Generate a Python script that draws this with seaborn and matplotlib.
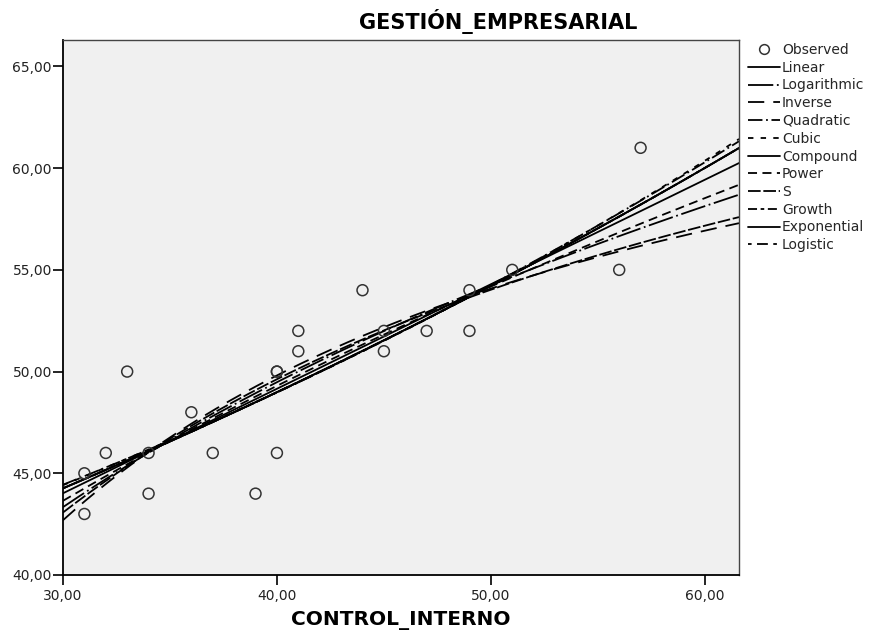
import numpy as np
import pandas as pd
import seaborn as sns
import matplotlib
matplotlib.use("Agg")
import matplotlib.pyplot as plt
from matplotlib.ticker import FuncFormatter, FixedLocator
from matplotlib.lines import Line2D

# Observed values
control_interno = [31, 31, 32, 33, 34, 34, 36, 37, 39, 40, 40, 40,
                   41, 41, 44, 45, 45, 47, 49, 49, 51, 56, 57]
gestion_empresarial = [45, 43, 46, 50, 46, 44, 48, 46, 44, 50, 50, 46,
                       52, 51, 54, 52, 51, 52, 54, 52, 55, 55, 61]

models = ["Linear", "Logarithmic", "Inverse", "Quadratic", "Cubic",
          "Compound", "Power", "S", "Growth", "Exponential", "Logistic"]
x_ticks = [30, 40, 50, 60]
y_ticks = [40, 45, 50, 55, 60, 65]

styles = {
    "Linear": "-",
    "Logarithmic": (0, (14, 2, 1, 2)),
    "Inverse": (0, (9, 5)),
    "Quadratic": (0, (8, 2, 1, 2)),
    "Cubic": (0, (3, 4)),
    "Compound": "-",
    "Power": (0, (5, 3)),
    "S": (0, (7, 1.5)),
    "Growth": (0, (5, 2, 2, 2)),
    "Exponential": "-",
    "Logistic": (0, (2, 3, 6, 3)),
}

x = np.asarray(control_interno, float)
y = np.asarray(gestion_empresarial, float)
xmin, xmax = 30.0, 61.6
grid = np.linspace(xmin, xmax, 300)


def lstsq_curve(cols_fit, cols_grid, target):
    A = np.column_stack(cols_fit)
    coef, *_ = np.linalg.lstsq(A, target, rcond=None)
    return np.column_stack(cols_grid) @ coef


def fit_curve(name, g):
    one, oneg = np.ones_like(x), np.ones_like(g)
    if name == "Linear":
        return np.polyval(np.polyfit(x, y, 1), g)
    if name == "Logarithmic":
        return np.polyval(np.polyfit(np.log(x), y, 1), np.log(g))
    if name == "Inverse":
        return np.polyval(np.polyfit(1 / x, y, 1), 1 / g)
    if name == "Quadratic":
        return np.polyval(np.polyfit(x, y, 2), g)
    if name == "Cubic":
        # collinear x^2 term left out of the cubic model
        return lstsq_curve([one, x, x ** 3], [oneg, g, g ** 3], y)
    if name in ("Compound", "Growth", "Exponential"):
        return np.exp(np.polyval(np.polyfit(x, np.log(y), 1), g))
    if name == "Power":
        return np.exp(np.polyval(np.polyfit(np.log(x), np.log(y), 1), np.log(g)))
    if name == "S":
        return np.exp(np.polyval(np.polyfit(1 / x, np.log(y), 1), 1 / g))
    if name == "Logistic":
        return 1 / np.exp(np.polyval(np.polyfit(x, np.log(1 / y), 1), g))


sns.set_style("white")
plt.rcParams["font.family"] = ["DejaVu Sans"]

fig = plt.figure(figsize=(8.73, 6.37), dpi=100)
ax = fig.add_axes([63 / 873, 1 - 575 / 637, (739 - 63) / 873, (575 - 40) / 637])
ax.set_facecolor("#f0f0f0")

handles = [Line2D([], [], marker="o", linestyle="none", markersize=7,
                  markerfacecolor="none", markeredgecolor="#333333",
                  markeredgewidth=1.1, label="Observed")]
for name in models:
    fy = fit_curve(name, grid)
    sns.lineplot(x=grid, y=fy, ax=ax, color="black", linewidth=1.3,
                 linestyle=styles[name], estimator=None, sort=False)
    handles.append(Line2D([], [], color="black", linewidth=1.3,
                          linestyle=styles[name], label=name))

df = pd.DataFrame({"CONTROL_INTERNO": x, "GESTION": y})
sns.scatterplot(data=df, x="CONTROL_INTERNO", y="GESTION", ax=ax,
                marker="o", s=62, facecolor="none", edgecolor="#333333",
                linewidth=1.1, zorder=5)

ax.set_xlim(xmin, xmax)
ax.set_ylim(40, 66.3)
ax.xaxis.set_major_locator(FixedLocator(x_ticks))
ax.yaxis.set_major_locator(FixedLocator(y_ticks))
fmt = FuncFormatter(lambda v, p: f"{v:.2f}".replace(".", ","))
ax.xaxis.set_major_formatter(fmt)
ax.yaxis.set_major_formatter(fmt)
ax.tick_params(axis="both", direction="out", length=7, width=1.2,
               labelsize=10, colors="black", labelcolor="#222222",
               bottom=True, left=True, pad=1)
ax.tick_params(axis="x", pad=3)
for side in ["left", "bottom"]:
    ax.spines[side].set_color("black")
    ax.spines[side].set_linewidth(1.3)
for side in ["top", "right"]:
    ax.spines[side].set_color("#444444")
    ax.spines[side].set_linewidth(1.0)

ax.set_xlabel("")
ax.set_ylabel("")
fig.text(401 / 873, 1 - 620 / 637, "CONTROL_INTERNO", ha="center", va="center",
         fontsize=14.5, fontweight="bold", color="black")
fig.text(498 / 873, 1 - 29 / 637, "GESTIÓN_EMPRESARIAL", ha="center", va="baseline",
         fontsize=15, fontweight="bold", color="black")

fig.legend(handles=handles, loc="upper left",
           bbox_to_anchor=(748 / 873, 1 - 43 / 637), frameon=False,
           fontsize=10, handlelength=2.3, handletextpad=0.15,
           labelspacing=0.27, borderpad=0, borderaxespad=0)

fig.savefig("out.png", dpi=100)
